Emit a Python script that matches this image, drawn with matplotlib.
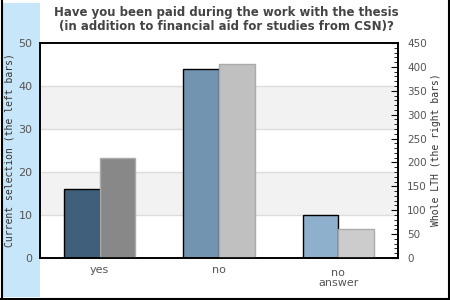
import matplotlib
matplotlib.use("Agg")
import numpy as np
from matplotlib import pyplot as plt
from matplotlib.patches import Rectangle
from matplotlib.lines import Line2D
from matplotlib.ticker import MultipleLocator
import matplotlib.transforms as mtransforms

categories = ["yes", "no", "no\nanswer"]
current = [16, 44, 10]
whole_lth = [210, 407, 60]
left_colors = ["#3f5f7a", "#7294b0", "#8fb0cc"]
right_colors = ["#888888", "#c0c0c0", "#cccccc"]

title = "Have you been paid during the work with the thesis\n(in addition to financial aid for studies from CSN)?"

W, H = 450, 300
fig = plt.figure(figsize=(4.5, 3), dpi=100)

# Side strip and frame (behind the axes)
fig.patches.append(Rectangle((3 / W, 3 / H), 37 / W, 294 / H, transform=fig.transFigure,
                             facecolor="#c8e6fa", edgecolor="none", zorder=-5))
for xs, ys in [([1.5 / W, 1.5 / W], [0, 1]), ([448.5 / W, 448.5 / W], [0, 1]),
               ([0, 1], [1.5 / H, 1.5 / H])]:
    fig.lines.append(Line2D(xs, ys, transform=fig.transFigure, color="black", lw=1.5, zorder=-4))

ax = fig.add_axes([40 / W, 1 - 258 / H, 358 / W, 215 / H])
ax2 = ax.twinx()

x = np.arange(len(categories))
bw = 0.30

# Background bands and grid
for lo, hi in [(10, 20), (30, 40)]:
    ax.axhspan(lo, hi, color="#f2f2f2", zorder=0, lw=0)
for g in [10, 20, 30, 40]:
    ax.axhline(g, color="#dddddd", lw=1, zorder=0.5)

ax.bar(x - bw / 2, current, bw, color=left_colors, edgecolor="black", lw=1, zorder=2)
ax2.bar(x + bw / 2, whole_lth, bw, color=right_colors, edgecolor="#aaaaaa", lw=1, zorder=2)

ax.set_xlim(-0.5, 2.5)
ax.set_ylim(0, 50)
ax2.set_ylim(0, 450)

ax.set_yticks(range(0, 51, 10))
ax.tick_params(axis="y", length=0, pad=5.5, labelsize=8, labelcolor="#555555")
ax.set_xticks(x)
ax.set_xticklabels(categories)
ax.tick_params(axis="x", length=0, pad=5, labelsize=8, labelcolor="#555555")
# the two-line label sits a little lower, with tight line spacing
last = ax.get_xticklabels()[-1]
last.set_linespacing(1.0)
last.set_transform(last.get_transform() +
                   mtransforms.ScaledTranslation(0, -3 / 100, fig.dpi_scale_trans))

ax2.yaxis.set_major_locator(MultipleLocator(50))
ax2.yaxis.set_minor_locator(MultipleLocator(10))
ax2.tick_params(axis="y", which="major", direction="in", length=5, pad=6.5,
                labelsize=7.5, labelcolor="#555555")
ax2.tick_params(axis="y", which="minor", direction="in", length=3)

for a in (ax, ax2):
    for s in a.spines.values():
        s.set_color("black")
        s.set_linewidth(1.2)

fig.text(10 / W, 1 - 150 / H, "Current selection (the left bars)", rotation=90,
         family="DejaVu Sans Mono", fontsize=7, color="#333333", ha="center", va="center")
fig.text(436 / W, 1 - 150 / H, "Whole LTH (the right bars)", rotation=90,
         family="DejaVu Sans Mono", fontsize=7, color="#333333", ha="center", va="center")
fig.text(226 / W, 1 - 19.5 / H, title, ha="center", va="center", fontsize=8.5,
         fontweight="bold", color="#444444", linespacing=1.15)

fig.savefig("out.png", dpi=100)
